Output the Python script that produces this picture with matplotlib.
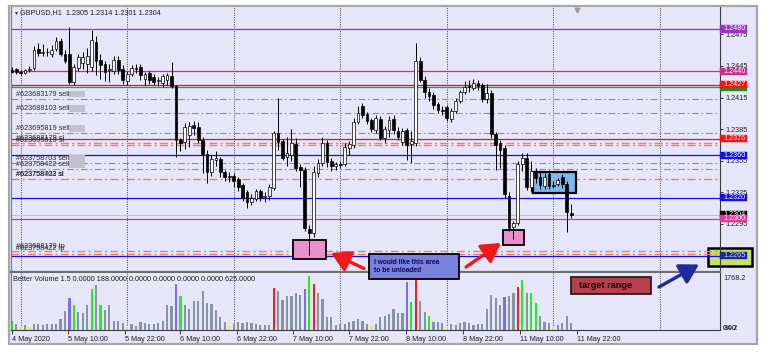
import numpy as np
import matplotlib
matplotlib.use('Agg')
import matplotlib.pyplot as plt
import matplotlib.transforms as mtransforms
from matplotlib.patches import Rectangle, FancyArrowPatch

plt.rcParams['font.family'] = ['Liberation Sans', 'DejaVu Sans']

# ---- data (GBPUSD H1) ----
opens = [1.2441,1.2442,1.2439,1.2438,1.2441,1.2443,1.2461,1.2457,1.2458,1.2456,
         1.2461,1.2469,1.2456,1.2456,1.2430,1.2443,1.2448,1.2447,1.2444,1.2468,
         1.2451,1.2447,1.2441,1.2440,1.2451,1.2442,1.2431,1.2437,1.2443,1.2444,
         1.2433,1.2438,1.2434,1.2431,1.2429,1.2432,1.2435,1.2426,1.2375,1.2373,
         1.2379,1.2389,1.2387,1.2375,1.2361,1.2344,1.2356,1.2357,1.2344,1.2341,
         1.2341,1.2338,1.2332,1.2325,1.2316,1.2319,1.2326,1.2321,1.2322,1.2329,
         1.2381,1.2374,1.2359,1.2360,1.2371,1.2349,1.2346,1.2290,1.2286,1.2343,
         1.2353,1.2372,1.2355,1.2350,1.2352,1.2352,1.2367,1.2370,1.2392,1.2407,
         1.2399,1.2394,1.2384,1.2395,1.2377,1.2384,1.2395,1.2383,1.2373,1.2384,
         1.2371,1.2372,1.2450,1.2432,1.2420,1.2417,1.2409,1.2403,1.2406,1.2395,
         1.2402,1.2412,1.2420,1.2426,1.2424,1.2429,1.2427,1.2414,1.2419,1.2380,
         1.2372,1.2367,1.2322,1.2292,1.2296,1.2352,1.2358,1.2330,1.2344,1.2340,
         1.2331,1.2342,1.2332,1.2333,1.2340,1.2333,1.2305]
highs = [1.2444,1.2443,1.2441,1.2442,1.2445,1.2464,1.2467,1.2466,1.2462,1.2465,
         1.2472,1.2471,1.2460,1.2482,1.2447,1.2456,1.2458,1.2462,1.2479,1.2473,
         1.2456,1.2450,1.2447,1.2454,1.2454,1.2446,1.2440,1.2446,1.2447,1.2447,
         1.2439,1.2440,1.2437,1.2434,1.2437,1.2438,1.2449,1.2427,1.2377,1.2391,
         1.2392,1.2393,1.2392,1.2378,1.2365,1.2360,1.2364,1.2359,1.2346,1.2344,
         1.2343,1.2340,1.2334,1.2327,1.2323,1.2328,1.2328,1.2325,1.2333,1.2383,
         1.2415,1.2376,1.2378,1.2385,1.2377,1.2352,1.2349,1.2294,1.2350,1.2357,
         1.2378,1.2375,1.2358,1.2354,1.2355,1.2372,1.2374,1.2396,1.2407,1.2410,
         1.2401,1.2396,1.2398,1.2397,1.2388,1.2397,1.2398,1.2387,1.2386,1.2386,
         1.2383,1.2467,1.2453,1.2435,1.2424,1.2420,1.2411,1.2407,1.2408,1.2405,
         1.2415,1.2422,1.2431,1.2432,1.2433,1.2432,1.2429,1.2428,1.2422,1.2382,
         1.2375,1.2370,1.2325,1.2298,1.2355,1.2362,1.2362,1.2355,1.2348,1.2344,
         1.2343,1.2346,1.2336,1.2339,1.2342,1.2336,1.2314]
lows = [1.2438,1.2437,1.2436,1.2437,1.2439,1.2441,1.2454,1.2454,1.2454,1.2453,
        1.2459,1.2454,1.2448,1.2428,1.2427,1.2440,1.2442,1.2438,1.2440,1.2436,
        1.2433,1.2431,1.2430,1.2437,1.2437,1.2428,1.2427,1.2435,1.2438,1.2432,
        1.2427,1.2428,1.2427,1.2426,1.2425,1.2427,1.2424,1.2359,1.2364,1.2366,
        1.2368,1.2379,1.2372,1.2343,1.2334,1.2341,1.2350,1.2340,1.2336,1.2335,
        1.2330,1.2326,1.2317,1.2310,1.2313,1.2317,1.2317,1.2316,1.2318,1.2327,
        1.2365,1.2356,1.2350,1.2355,1.2345,1.2330,1.2288,1.2266,1.2283,1.2340,
        1.2350,1.2349,1.2345,1.2346,1.2348,1.2350,1.2360,1.2367,1.2390,1.2396,
        1.2390,1.2382,1.2381,1.2375,1.2372,1.2378,1.2380,1.2375,1.2370,1.2356,
        1.2353,1.2369,1.2430,1.2415,1.2412,1.2404,1.2400,1.2398,1.2393,1.2392,
        1.2400,1.2410,1.2418,1.2420,1.2422,1.2422,1.2411,1.2410,1.2377,1.2346,
        1.2348,1.2320,1.2288,1.2281,1.2294,1.2345,1.2327,1.2325,1.2334,1.2328,
        1.2328,1.2328,1.2329,1.2331,1.2329,1.2287,1.2301]
closes = [1.2439,1.2439,1.2438,1.2441,1.2442,1.2460,1.2457,1.2458,1.2458,1.2460,
          1.2469,1.2456,1.2450,1.2430,1.2444,1.2453,1.2453,1.2454,1.2470,1.2450,
          1.2446,1.2439,1.2442,1.2451,1.2441,1.2432,1.2437,1.2443,1.2442,1.2436,
          1.2437,1.2432,1.2430,1.2432,1.2435,1.2436,1.2426,1.2375,1.2372,1.2387,
          1.2388,1.2386,1.2375,1.2361,1.2344,1.2357,1.2358,1.2344,1.2340,1.2340,
          1.2336,1.2330,1.2320,1.2316,1.2320,1.2326,1.2320,1.2322,1.2330,1.2381,
          1.2373,1.2358,1.2362,1.2372,1.2348,1.2346,1.2291,1.2286,1.2344,1.2353,
          1.2372,1.2354,1.2350,1.2352,1.2351,1.2368,1.2371,1.2392,1.2400,1.2398,
          1.2393,1.2385,1.2396,1.2377,1.2385,1.2394,1.2384,1.2378,1.2383,1.2370,
          1.2374,1.2450,1.2432,1.2420,1.2416,1.2408,1.2403,1.2402,1.2396,1.2402,
          1.2412,1.2420,1.2425,1.2425,1.2429,1.2426,1.2414,1.2419,1.2380,1.2370,
          1.2365,1.2323,1.2291,1.2296,1.2352,1.2358,1.2330,1.2345,1.2339,1.2332,
          1.2340,1.2331,1.2331,1.2337,1.2333,1.2306,1.2304]

volumes = [295,186,108,164,108,196,196,164,186,186,
           186,350,621,1046,818,589,556,818,1331,1472,
           818,654,818,294,304,239,108,196,141,252,
           219,196,196,219,304,818,785,1504,1112,818,
           677,948,948,1275,883,840,654,435,252,131,
           196,271,219,271,239,186,164,164,164,1364,
           1275,981,1112,1112,1200,1145,1331,1766,1504,1200,
           1004,415,415,164,196,196,252,294,350,304,
           196,141,196,435,468,523,677,566,546,1570,
           916,1733,948,589,458,252,252,219,108,196,
           164,239,271,219,164,186,196,677,1145,1046,
           818,1069,1112,1200,1396,1635,1220,1200,873,458,
           271,219,108,164,219,468,239]
# Better Volume bar type: . normal, g churn, y low, b climax down, r climax up
vol_kind = "".join(["g.y.y.....", "...bg...g.", "g.....y...", ".......bg.",
                    ".........y", ".........r", "......bgr.", "..........",
                    ".y.......b", "gr..g...y.", "..........", ".b..rg.gg.",
                    "..y...."])

level_prices = [1.2480, 1.2440, 1.2427, 1.2425, 1.2414, 1.2400, 1.2381, 1.2376,
                1.2372, 1.2370, 1.2360, 1.2353, 1.2347, 1.2338, 1.2320, 1.2304,
                1.2300, 1.2269, 1.2267, 1.2265]
level_kinds = ['purple', 'magenta', 'red', 'green', 'sell', 'sell', 'sell', 'red',
               'sl', 'sl', 'blue', 'sell', 'sell', 'sl', 'blue', 'price',
               'pink', 'tp', 'tp', 'blue']

order_prices = [1.2414, 1.2400, 1.2381, 1.2372, 1.2370, 1.2353, 1.2347,
                1.2338, 1.2338, 1.2269, 1.2267]
order_labels = ['#623683179 sell', '#623688103 sell', '#623695819 sell',
                '#623688179 sl', '#623695819 sl', '#623758703 sell',
                '#623758422 sell', '#623758703 sl', '#623758422 sl',
                '#623688179 tp', '#623758422 tp']

tag_prices = [1.2480, 1.2440, 1.2425, 1.2427, 1.2376, 1.2360, 1.2320, 1.2304, 1.2300, 1.2265]
tag_kinds = ['purple', 'magenta', 'green', 'red', 'red', 'blue', 'blue', 'price', 'pink', 'target']

price_ticks = [1.2475, 1.2445, 1.2415, 1.2385, 1.2355, 1.2325, 1.2295, 1.2265]
time_labels = ['4 May 2020', '5 May 10:00', '5 May 22:00', '6 May 10:00', '6 May 22:00',
               '7 May 10:00', '7 May 22:00', '8 May 10:00', '8 May 22:00',
               '11 May 10:00', '11 May 22:00']

# ---- layout ----
W, H = 776, 359
BG = '#e6e6fa'
FS = 5.2
BAR0, STEP = 11.7, 4.44          # pixel centre of first bar, pixels per bar
time_px = [11.7, 68.3, 125, 180.5, 236.7, 293.3, 349.3, 406.3, 463, 519.7, 576.7]
grid_bars = [2, 26, 50, 74, 98, 122, 146]

line_style = {
    'purple': ('#9933cc', '-', 0.9), 'magenta': ('#c8308c', '-', 0.9),
    'red': ('#ee1111', '-', 0.9), 'green': ('#2f9a3a', '-', 0.9),
    'blue': ('#1010ee', '-', 0.9), 'pink': ('#e0339a', '-', 0.9),
    'price': ('#c4c4cc', '-', 0.8),
    'sell': ('#5fb05f', (0, (6, 2.5, 1.5, 2.5)), 0.8),
    'sl': ('#f07c5a', (0, (6, 2.5, 1.5, 2.5)), 0.95),
    'tp': ('#f07c5a', (0, (6, 2.5, 1.5, 2.5)), 0.95),
}
tag_color = {'purple': ('#9933cc', 'white'), 'magenta': ('#c8308c', 'white'),
             'green': ('#228b22', 'white'), 'red': ('#ff1010', 'white'),
             'blue': ('#1010ee', 'white'), 'price': ('#000000', 'white'),
             'pink': ('#e8359c', 'white'), 'target': ('#1e2a8c', '#d0d0ff')}
vol_color = {'.': '#8794a4', 'g': '#22ee22', 'y': '#eeee22', 'b': '#7c6cf2', 'r': '#ee2020'}


def rect(l, t, r, b):
    return [l / W, 1 - b / H, (r - l) / W, (b - t) / H]


fig = plt.figure(figsize=(W / 100, H / 100), dpi=100)
fig.patch.set_facecolor('white')

frame = fig.add_axes([0, 0, 1, 1], zorder=0)
frame.set_xlim(0, W)
frame.set_ylim(H, 0)
frame.axis('off')
frame.add_patch(Rectangle((8.5, 5.5), 748, 338.5, fc=BG, ec='#a6a6a6', lw=1.6))

ax = fig.add_axes(rect(10.5, 7, 720, 272), zorder=1)
axv = fig.add_axes(rect(10.5, 273, 720, 330), zorder=1, sharex=ax)
for a in (ax, axv):
    a.set_facecolor(BG)
    a.spines['left'].set_color('#7a7a7a')
    a.spines['left'].set_linewidth(0.8)
    a.spines['right'].set_color('#3a3a3a')
    a.spines['right'].set_linewidth(0.8)
    a.spines['top'].set_visible(False)
    for g in grid_bars:
        a.axvline(g, color='#2a2a2a', lw=0.6, ls=(0, (1.2, 1.6)), zorder=0.8)
ax.spines['bottom'].set_color('#6e6e6e')
ax.spines['bottom'].set_linewidth(1.6)
axv.spines['bottom'].set_color('#3a3a3a')
axv.spines['bottom'].set_linewidth(0.8)

n = len(closes)
x = np.arange(n)
o, h, l, c = (np.array(v) for v in (opens, highs, lows, closes))
ax.set_xlim((10.5 - BAR0) / STEP, (720 - BAR0) / STEP)
ax.set_ylim(1.224945, 1.250087)

# level lines and order labels
for p, k in zip(level_prices, level_kinds):
    col, ls, lw = line_style[k]
    ax.axhline(p, color=col, ls=ls, lw=lw, zorder=1)
for p, t in zip(order_prices, order_labels):
    ax.text(1.0, p + 0.0001, t, fontsize=FS, color='#2b2b2b', va='bottom', ha='left', zorder=1.5)
    if t.endswith('sell'):
        ax.add_patch(Rectangle((13.0, p + 0.00014), 3.5, 0.00062, fc='#c2c2ca', ec='none', zorder=1.5))

# drawn boxes on the chart
ax.add_patch(Rectangle((63.4, 1.22618), 7.4, 0.0018, fc='#e890c8', ec='black', lw=1.3, zorder=2))
ax.add_patch(Rectangle((110.7, 1.22750), 4.7, 0.00142, fc='#e890c8', ec='black', lw=1.3, zorder=2))
ax.add_patch(Rectangle((117.4, 1.23244), 9.7, 0.00199, fc='#80b6f0', ec='black', lw=1.6, zorder=2))

# candles
ax.vlines(x, l, h, color='black', lw=0.7, zorder=3)
up = c >= o
ax.bar(x, np.maximum(np.abs(c - o), 0.00003), bottom=np.minimum(o, c), width=0.62,
       color=np.where(up, 'white', 'black'), edgecolor='black', linewidth=0.5, zorder=4)

# price scale
ax.yaxis.tick_right()
ax.set_yticks(price_ticks)
ax.set_yticklabels([f'{v:.4f}' for v in price_ticks])
ax.tick_params(axis='y', length=2.5, width=0.6, pad=1.2, labelsize=FS, colors='#1e1e1e')
ax.tick_params(axis='x', bottom=False, labelbottom=False)

trans = mtransforms.blended_transform_factory(ax.transAxes, ax.transData)
ax.add_patch(Rectangle((0.9831, 1.22551), 0.062, 0.00171, transform=trans, fc='#c6e264',
                       ec='black', lw=1.8, clip_on=False, zorder=0.9))
for i, (p, k) in enumerate(zip(tag_prices, tag_kinds)):
    fc, tc = tag_color[k]
    ax.add_patch(Rectangle((1.0007, p - 0.00034), 0.0372, 0.00068, transform=trans,
                           fc=fc, ec=fc, lw=0.3, clip_on=False, zorder=6 + i))
    ax.text(1.0042, p, f'{p:.4f}', transform=trans, fontsize=FS, color=tc, va='center',
            ha='left', clip_on=False, zorder=6.5 + i)

# volume panel
axv.bar(x, volumes, width=0.5, color=[vol_color[k] for k in vol_kind], zorder=2)
axv.set_ylim(0, 1864)
axv.set_yticks([])
axv.set_xticks([(p - BAR0) / STEP for p in time_px])
axv.set_xticklabels(time_labels)
axv.tick_params(axis='x', length=3, width=0.6, pad=1.5, labelsize=FS, colors='#1e1e1e')
for t in axv.get_xticklabels():
    t.set_ha('left')

# overlay: header, text notes and arrows (pixel coordinates)
ov = fig.add_axes([0, 0, 1, 1], zorder=10)
ov.set_xlim(0, W)
ov.set_ylim(H, 0)
ov.axis('off')
ov.text(13.5, 13, '▼', fontsize=3.6, color='#303030', va='center')
ov.text(20.5, 13, f'GBPUSD,H1  {opens[-1]:.4f} {highs[-1]:.4f} {lows[-1]:.4f} {closes[-1]:.4f}',
        fontsize=FS, color='#1e1e1e', va='center')
ov.plot([577], [9.5], marker='v', ms=3.5, color='#a0a0a0')
ov.text(13, 279.5, 'Better Volume 1.5 0.0000 188.0000 0.0000 0.0000 0.0000 0.0000 625.0000',
        fontsize=FS, color='#1e1e1e', va='center')
ov.text(723, 278, '1768.2', fontsize=FS, color='#1e1e1e', va='center')
ov.text(722.5, 328.5, '0.00', fontsize=FS, color='#1e1e1e', va='center')
ov.text(724, 328.5, '84.2', fontsize=FS, color='#1e1e1e', va='center')

ov.add_patch(Rectangle((369, 254), 90, 25, fc='#7a80de', ec='black', lw=1.3))
ov.text(374, 266.5, 'I would like this area\nto be unloaded', fontsize=4.8, fontweight='bold',
        color='#0c0c50', va='center', ha='left', linespacing=1.35)
ov.add_patch(Rectangle((571, 277), 80, 17, fc='#b83e50', ec='#202020', lw=1.3))
ov.text(579, 285.5, 'target range', fontsize=6.6, fontweight='bold', color='#1a0606',
        va='center', ha='left')

for (x0, y0), (x1, y1), col in [((364, 268.5), (331, 253), '#f01818'),
                                ((466, 267), (501, 243), '#f01818'),
                                ((659, 287), (699, 264.5), '#1f2a9c')]:
    ov.add_patch(FancyArrowPatch((x0, y0), (x1, y1), arrowstyle='-|>,head_width=0.55,head_length=0.95',
                                 mutation_scale=12, lw=2.4, color=col, shrinkA=0, shrinkB=0))

fig.savefig('out.png', dpi=100)
